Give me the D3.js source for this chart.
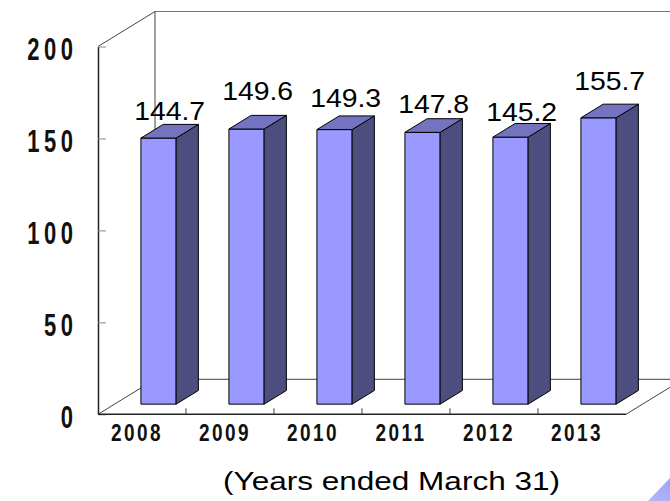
<!DOCTYPE html>
<html>
<head>
<meta charset="utf-8">
<script src="https://cdn.jsdelivr.net/npm/d3@7"></script>
<style>
  body { margin: 0; background: #fff; }
  svg { display: block; }
  .ylab, .xlab { font-family: "Liberation Sans", Arial, sans-serif; font-weight: bold; fill: #111; }
  .vlab, .title { font-family: "Liberation Sans", Arial, sans-serif; fill: #000; }
</style>
</head>
<body>
<script>
// data
var years = ['2008', '2009', '2010', '2011', '2012', '2013'];
var sales = [144.7, 149.6, 149.3, 147.8, 145.2, 155.7];
var yTicks = [0, 50, 100, 150, 200];
var xTitle = '(Years ended March 31)';
// the value labels sit a little unevenly in the original (px above bar top)
var labelLift = [4, 15, 9, 6, 2, 14];

var W = 670, H = 501;
var depth = {x: 57, y: -35};          // full depth of the 3d box
var barFront = 0.29, barBack = 0.68;  // bar position inside the depth

var svg = d3.select('body').append('svg').attr('width', W).attr('height', H);

var x = d3.scaleBand().domain(years).range([98, 626]).paddingInner(0.6).paddingOuter(0.3);
var y = d3.scaleLinear().domain([0, 200]).range([414.3, 46.5]);

var x0 = x.range()[0], x1 = x.range()[1];
var yb = y(0), yt = y(200);

function pt(px, py, f) { return [px + depth.x*f, py + depth.y*f]; }
var line = d3.line();

// back wall + floor
var wall = svg.append('g').attr('fill', 'none').attr('stroke', '#444').attr('stroke-width', 1);
wall.append('path').attr('d', line([pt(x0, yt, 0), pt(x0, yt, 1), pt(x0, yb, 1)]));
wall.append('path').attr('d', line([pt(x0, yt, 1), pt(x1 + 60, yt, 1)])).attr('stroke', '#777');
wall.append('path').attr('d', line([pt(x0, yb, 0), pt(x0, yb, 1), pt(x1, yb, 1)]));
wall.append('path').attr('d', line([pt(x1, yb, 0), pt(x1, yb, 1)]));

// bars
var bars = svg.append('g').attr('stroke', '#000').attr('stroke-width', 1).attr('stroke-linejoin', 'round');
years.forEach(function(yr, i) {
    var bl = x(yr), br = x(yr) + x.bandwidth(), top = y(sales[i]);
    var g = bars.append('g');
    // front
    g.append('path').attr('fill', '#9999ff')
        .attr('d', line([pt(bl, yb, barFront), pt(br, yb, barFront), pt(br, top, barFront), pt(bl, top, barFront)]) + 'Z');
    // side
    g.append('path').attr('fill', '#4d4d7f')
        .attr('d', line([pt(br, yb, barFront), pt(br, yb, barBack), pt(br, top, barBack), pt(br, top, barFront)]) + 'Z');
    // top
    g.append('path').attr('fill', '#7373c0')
        .attr('d', line([pt(bl, top, barFront), pt(br, top, barFront), pt(br, top, barBack), pt(bl, top, barBack)]) + 'Z');
});

// value labels
svg.append('g').selectAll('text').data(sales).join('text')
    .attr('class', 'vlab')
    .attr('x', function(d, i) {
        var a = pt(x(years[i]), 0, barFront)[0];
        var b = pt(x(years[i]) + x.bandwidth(), 0, barBack)[0];
        return (a + b)/2;
    })
    .attr('y', function(d, i) { return pt(0, y(d), barBack)[1] - labelLift[i]; })
    .attr('text-anchor', 'middle')
    .attr('font-size', 25)
    .attr('textLength', 71)
    .attr('lengthAdjust', 'spacingAndGlyphs')
    .text(function(d) { return d.toFixed(1); });

// left axis (tall narrow spaced digits: small font stretched vertically)
var yAxis = svg.append('g').attr('transform', 'translate(' + x0 + ',0)')
    .call(d3.axisLeft(y).tickValues(yTicks).tickSizeInner(-8).tickSizeOuter(0).tickPadding(20.5));
yAxis.select('.domain').attr('stroke', '#222').attr('stroke-width', 1.5);
yAxis.selectAll('.tick line').attr('stroke', '#888');
yAxis.selectAll('.tick text').attr('class', 'ylab').attr('font-size', 22)
    .attr('letter-spacing', 4.5)
    .attr('transform', 'scale(1,1.4)')
    .attr('dy', '0.42em');

// bottom axis
var xAxisG = svg.append('g');
xAxisG.append('path').attr('stroke', '#222').attr('stroke-width', 1.5).attr('fill', 'none')
    .attr('d', line([[x0, yb], [x1, yb]]));
xAxisG.selectAll('line').data(years.slice(1)).join('line')
    .attr('x1', function(d) { return x(d) - x.step()*x.paddingInner()/2; })
    .attr('x2', function(d) { return x(d) - x.step()*x.paddingInner()/2; })
    .attr('y1', yb).attr('y2', yb - 6)
    .attr('stroke', '#444');

var xAxis = svg.append('g').attr('transform', 'translate(-5,' + yb + ')')
    .call(d3.axisBottom(x).tickSize(0));
xAxis.select('.domain').remove();
xAxis.selectAll('.tick text').attr('class', 'xlab').attr('font-size', 19)
    .attr('letter-spacing', 2.4)
    .attr('transform', 'scale(1,1.27)')
    .attr('y', 0).attr('dy', 20.8);

// axis title
svg.append('text').attr('class', 'title')
    .attr('x', 391.5).attr('y', 490)
    .attr('text-anchor', 'middle')
    .attr('font-size', 25)
    .attr('textLength', 337)
    .attr('lengthAdjust', 'spacingAndGlyphs')
    .text(xTitle);

// slide decoration in the corner
var grad = svg.append('defs').append('linearGradient').attr('id', 'corner')
    .attr('x1', 0).attr('y1', 1).attr('x2', 1).attr('y2', 0);
grad.append('stop').attr('offset', 0).attr('stop-color', '#b4b8fa');
grad.append('stop').attr('offset', 1).attr('stop-color', '#9ea4f4');
svg.append('path').attr('fill', 'url(#corner)')
    .attr('d', line([[648, H], [W, 478], [W, H]]) + 'Z');
</script>
</body>
</html>
